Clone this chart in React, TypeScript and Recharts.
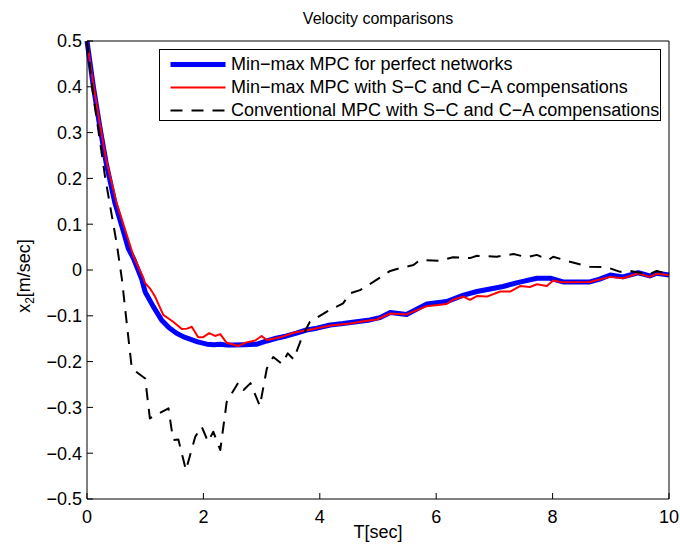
import { LineChart, Line, XAxis, YAxis, Legend } from 'recharts';

// time (s) and velocity (m/s)
const blueT = [0, 0.11, 0.22, 0.33, 0.48, 0.62, 0.71, 0.8, 0.94, 1.0, 1.14, 1.28, 1.41, 1.54, 1.66, 1.77, 1.9, 2.06, 2.18, 2.29, 2.4, 2.51, 2.7, 2.92, 3.09, 3.25, 3.43, 3.6, 3.77, 3.95, 4.18, 4.4, 4.63, 4.86, 5.03, 5.21, 5.49, 5.84, 6.18, 6.47, 6.7, 7.15, 7.38, 7.73, 7.96, 8.18, 8.64, 8.81, 8.99, 9.21, 9.47, 9.67, 9.79, 10];
const blueV = [0.5, 0.4, 0.313, 0.233, 0.146, 0.087, 0.047, 0.025, -0.02, -0.048, -0.08, -0.109, -0.126, -0.138, -0.146, -0.151, -0.157, -0.162, -0.163, -0.162, -0.164, -0.164, -0.163, -0.162, -0.155, -0.149, -0.144, -0.138, -0.131, -0.127, -0.12, -0.117, -0.113, -0.109, -0.104, -0.093, -0.097, -0.074, -0.069, -0.055, -0.047, -0.036, -0.028, -0.018, -0.018, -0.026, -0.026, -0.02, -0.011, -0.015, -0.006, -0.013, -0.007, -0.011];

const redT = [0, 0.11, 0.22, 0.33, 0.51, 0.65, 0.8, 0.97, 1.0, 1.08, 1.17, 1.31, 1.4, 1.48, 1.63, 1.72, 1.8, 1.91, 1.99, 2.1, 2.2, 2.29, 2.4, 2.6, 2.74, 2.89, 3.0, 3.09, 3.32, 3.55, 3.89, 4.18, 4.52, 4.75, 4.98, 5.21, 5.49, 5.84, 6.18, 6.29, 6.47, 6.58, 6.7, 6.87, 7.1, 7.27, 7.44, 7.61, 7.73, 7.9, 8.01, 8.18, 8.64, 8.99, 9.21, 9.47, 9.67, 9.79, 10];
const redV = [0.5, 0.405, 0.32, 0.24, 0.146, 0.09, 0.03, -0.018, -0.029, -0.04, -0.058, -0.098, -0.106, -0.113, -0.129, -0.128, -0.124, -0.147, -0.147, -0.138, -0.144, -0.14, -0.159, -0.166, -0.158, -0.154, -0.144, -0.153, -0.147, -0.137, -0.129, -0.121, -0.117, -0.112, -0.108, -0.095, -0.097, -0.079, -0.074, -0.065, -0.058, -0.065, -0.057, -0.058, -0.047, -0.047, -0.035, -0.037, -0.031, -0.035, -0.023, -0.027, -0.026, -0.015, -0.018, -0.007, -0.015, -0.008, -0.011];

const blackT = [0, 0.11, 0.22, 0.31, 0.4, 0.51, 0.6, 0.66, 0.77, 1.0, 1.08, 1.4, 1.48, 1.57, 1.7, 1.86, 1.97, 2.08, 2.17, 2.29, 2.4, 2.6, 2.69, 2.81, 2.97, 3.09, 3.2, 3.35, 3.45, 3.55, 3.7, 3.83, 4.12, 4.4, 4.52, 4.69, 4.92, 5.21, 5.38, 5.61, 5.72, 6.04, 6.29, 6.58, 6.7, 7.04, 7.33, 7.55, 7.73, 7.93, 8.01, 8.3, 8.64, 8.93, 9.16, 9.33, 9.5, 9.67, 9.79, 10];
const blackV = [0.5, 0.378, 0.284, 0.204, 0.138, 0.058, -0.02, -0.09, -0.215, -0.237, -0.324, -0.302, -0.371, -0.37, -0.437, -0.364, -0.342, -0.375, -0.353, -0.393, -0.288, -0.246, -0.262, -0.247, -0.297, -0.215, -0.19, -0.205, -0.182, -0.195, -0.145, -0.113, -0.091, -0.073, -0.051, -0.044, -0.026, -0.002, 0.004, 0.011, 0.022, 0.02, 0.028, 0.026, 0.031, 0.029, 0.035, 0.028, 0.033, 0.022, 0.029, 0.018, 0.007, 0.006, -0.004, -0.002, -0.006, -0.009, -0.002, -0.009];

const xTicks = [0, 2, 4, 6, 8, 10];
const yTicks = [-0.5, -0.4, -0.3, -0.2, -0.1, 0, 0.1, 0.2, 0.3, 0.4, 0.5];

const font = '"Liberation Sans", Arial, Helvetica, sans-serif';

const toPoints = (ts: number[], vs: number[]) => ts.map((t, i) => ({ t, v: vs[i] }));

const series = [
  { name: 'Min\u2212max MPC for perfect networks', color: '#0000ff', width: 5, dash: undefined, data: toPoints(blueT, blueV) },
  { name: 'Min\u2212max MPC with S\u2212C and C\u2212A compensations', color: '#ff0000', width: 2, dash: undefined, data: toPoints(redT, redV) },
  { name: 'Conventional MPC with S\u2212C and C\u2212A compensations', color: '#000000', width: 2, dash: '12 9', data: toPoints(blackT, blackV) },
];

const fmtY = (v: number) => (v < 0 ? '\u2212' + Math.abs(v) : String(v));

function LegendBox() {
  return (
    <div style={{ width: 502, height: 72, border: '1px solid #000', boxSizing: 'border-box', background: '#fff', paddingTop: 3, fontFamily: font, fontSize: 18, color: '#000' }}>
      {series.map((s) => (
        <div key={s.name} style={{ display: 'flex', alignItems: 'center', height: 23 }}>
          <svg width={71.5} height={23} style={{ flex: 'none' }}>
            <line x1={10.5} x2={65.5} y1={11.5} y2={11.5} stroke={s.color} strokeWidth={s.width} strokeDasharray={s.dash} />
          </svg>
          <span style={{ whiteSpace: 'nowrap', lineHeight: '23px' }}>{s.name}</span>
        </div>
      ))}
    </div>
  );
}

export default function App() {
  return (
    <div style={{ position: 'absolute', left: 0, top: 0, width: 680, height: 548, background: '#fff', fontFamily: font }}>
      <LineChart width={680} height={548} margin={{ top: 40, right: 10, bottom: 0, left: 27 }} style={{ fontFamily: font }}>
        <XAxis
          xAxisId="b"
          type="number"
          dataKey="t"
          domain={[0, 10]}
          ticks={xTicks}
          interval={0}
          height={49}
          tickSize={-6}
          tickMargin={17}
          stroke="#000"
          tick={{ fill: '#000', fontSize: 18 }}
          label={() => (
            <text x={378} y={538} textAnchor="middle" fill="#000" fontSize={18} fontFamily={font}>T[sec]</text>
          )}
        />
        <XAxis
          xAxisId="top"
          orientation="top"
          type="number"
          dataKey="t"
          domain={[0, 10]}
          ticks={xTicks}
          interval={0}
          height={1}
          tick={false}
          tickSize={-6}
          stroke="#000"
          label={() => (
            <text x={378} y={24} textAnchor="middle" fill="#000" fontSize={16} fontFamily={font}>Velocity comparisons</text>
          )}
        />
        <YAxis
          yAxisId="l"
          type="number"
          domain={[-0.5, 0.5]}
          ticks={yTicks}
          interval={0}
          width={60}
          tickSize={-6}
          tickMargin={11}
          stroke="#000"
          tickFormatter={fmtY}
          tick={{ fill: '#000', fontSize: 18 }}
          label={() => (
            <text transform="rotate(-90 30 276)" x={30} y={276} textAnchor="middle" fill="#000" fontSize={18} fontFamily={font}>
              x<tspan fontSize={12} dy={4}>2</tspan>
              <tspan dy={-4}>[m/sec]</tspan>
            </text>
          )}
        />
        <YAxis
          yAxisId="r"
          orientation="right"
          type="number"
          domain={[-0.5, 0.5]}
          ticks={yTicks}
          interval={0}
          width={1}
          tick={false}
          tickSize={-6}
          stroke="#000"
        />
        <Legend
          layout="vertical"
          verticalAlign="middle"
          align="center"
          content={() => <LegendBox />}
          wrapperStyle={{ left: 158.5, top: 49, width: 502, height: 72 }}
        />
        {series.map((s) => (
          <Line
            key={s.name}
            xAxisId="b"
            yAxisId="l"
            data={s.data}
            dataKey="v"
            name={s.name}
            type="linear"
            stroke={s.color}
            strokeWidth={s.width}
            strokeDasharray={s.dash}
            strokeLinejoin="round"
            dot={false}
            activeDot={false}
            isAnimationActive={false}
          />
        ))}
      </LineChart>
    </div>
  );
}
